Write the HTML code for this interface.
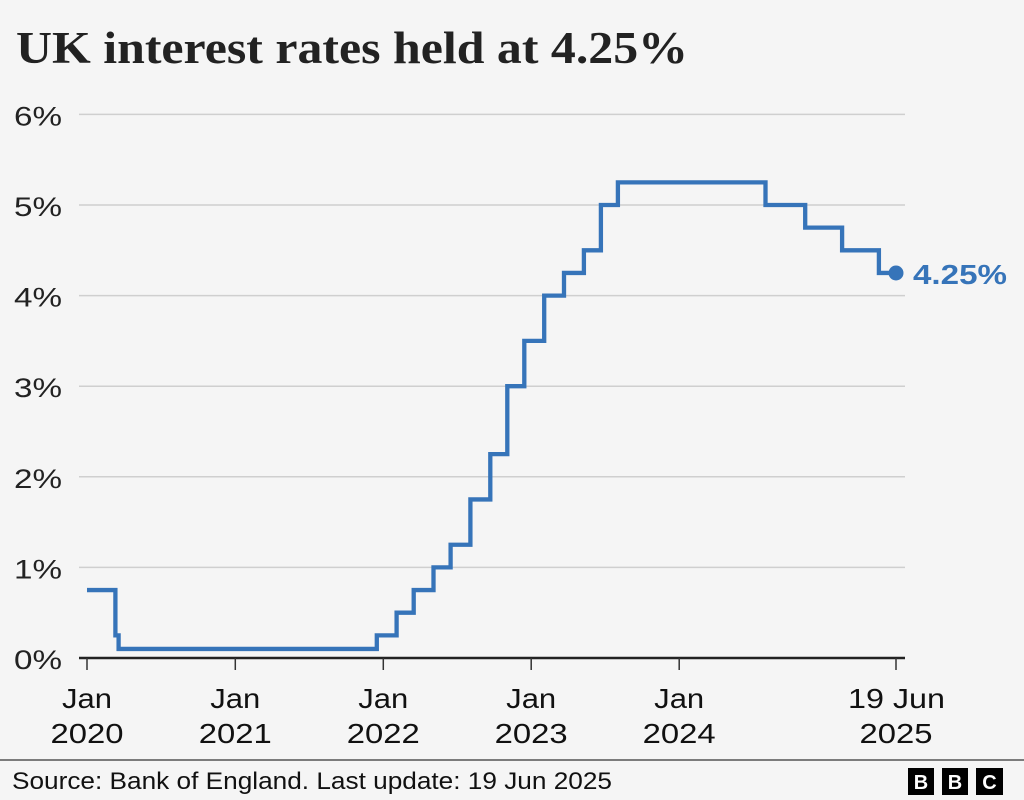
<!DOCTYPE html>
<html>
<head>
<meta charset="utf-8">
<style>
  html, body { margin: 0; padding: 0; background: #f5f5f5; }
  body { width: 1024px; height: 800px; overflow: hidden; }
  svg { display: block; }
</style>
</head>
<body>
<svg width="1024" height="800" viewBox="0 0 1024 800" xmlns="http://www.w3.org/2000/svg">
  <rect x="0" y="0" width="1024" height="800" fill="#f5f5f5"/>

  <!-- Title -->
  <text x="16" y="63" font-family="'Liberation Serif', serif" font-weight="bold" font-size="45" fill="#222" textLength="672" lengthAdjust="spacingAndGlyphs">UK interest rates held at 4.25%</text>

  <!-- Gridlines -->
  <g stroke="#cfcfcf" stroke-width="1.5">
    <line x1="79" y1="114.4" x2="905" y2="114.4"/>
    <line x1="79" y1="205" x2="905" y2="205"/>
    <line x1="79" y1="295.6" x2="905" y2="295.6"/>
    <line x1="79" y1="386.2" x2="905" y2="386.2"/>
    <line x1="79" y1="476.8" x2="905" y2="476.8"/>
    <line x1="79" y1="567.4" x2="905" y2="567.4"/>
  </g>

  <!-- Y labels -->
  <g font-family="'Liberation Sans', sans-serif" font-size="27" fill="#222">
    <text x="14" y="125.4" textLength="48" lengthAdjust="spacingAndGlyphs">6%</text>
    <text x="14" y="216" textLength="48" lengthAdjust="spacingAndGlyphs">5%</text>
    <text x="14" y="306.6" textLength="48" lengthAdjust="spacingAndGlyphs">4%</text>
    <text x="14" y="397.2" textLength="48" lengthAdjust="spacingAndGlyphs">3%</text>
    <text x="14" y="487.8" textLength="48" lengthAdjust="spacingAndGlyphs">2%</text>
    <text x="14" y="578.4" textLength="48" lengthAdjust="spacingAndGlyphs">1%</text>
    <text x="14" y="669" textLength="48" lengthAdjust="spacingAndGlyphs">0%</text>
  </g>

  <!-- Axis line and ticks -->
  <line x1="79" y1="658" x2="905" y2="658" stroke="#222" stroke-width="2.5"/>
  <g stroke="#333" stroke-width="1.5">
    <line x1="87" y1="658" x2="87" y2="670"/>
    <line x1="235.3" y1="658" x2="235.3" y2="670"/>
    <line x1="383.3" y1="658" x2="383.3" y2="670"/>
    <line x1="531.2" y1="658" x2="531.2" y2="670"/>
    <line x1="679.2" y1="658" x2="679.2" y2="670"/>
    <line x1="896" y1="658" x2="896" y2="670"/>
  </g>

  <!-- X labels -->
  <g font-family="'Liberation Sans', sans-serif" font-size="28" fill="#111" text-anchor="middle">
    <text x="87" y="708" textLength="50" lengthAdjust="spacingAndGlyphs">Jan</text>
    <text x="87" y="743" textLength="73" lengthAdjust="spacingAndGlyphs">2020</text>
    <text x="235.3" y="708" textLength="50" lengthAdjust="spacingAndGlyphs">Jan</text>
    <text x="235.3" y="743" textLength="73" lengthAdjust="spacingAndGlyphs">2021</text>
    <text x="383.3" y="708" textLength="50" lengthAdjust="spacingAndGlyphs">Jan</text>
    <text x="383.3" y="743" textLength="73" lengthAdjust="spacingAndGlyphs">2022</text>
    <text x="531.2" y="708" textLength="50" lengthAdjust="spacingAndGlyphs">Jan</text>
    <text x="531.2" y="743" textLength="73" lengthAdjust="spacingAndGlyphs">2023</text>
    <text x="679.2" y="708" textLength="50" lengthAdjust="spacingAndGlyphs">Jan</text>
    <text x="679.2" y="743" textLength="73" lengthAdjust="spacingAndGlyphs">2024</text>
    <text x="896.5" y="708" textLength="97" lengthAdjust="spacingAndGlyphs">19 Jun</text>
    <text x="896" y="743" textLength="73" lengthAdjust="spacingAndGlyphs">2025</text>
  </g>

  <!-- Series -->
  <path d="M87,590.05 H115.4 V635.35 H118.6 V648.94 H376.8 V635.35 H396.6 V612.7 H413.7 V590.05 H433.5 V567.4 H450.6 V544.75 H470.4 V499.45 H490.3 V454.15 H507.3 V386.2 H524.3 V340.9 H544.2 V295.6 H564.0 V272.95 H583.9 V250.3 H600.9 V205 H617.9 V182.35 H765.5 V205 H805.2 V227.65 H842.1 V250.3 H878.9 V272.95 H896"
        fill="none" stroke="#3674b9" stroke-width="4.3" stroke-linejoin="miter" stroke-linecap="butt"/>
  <circle cx="896" cy="273" r="7.5" fill="#3674b9"/>
  <text x="913" y="284" font-family="'Liberation Sans', sans-serif" font-weight="bold" font-size="28" fill="#3674b9" textLength="94" lengthAdjust="spacingAndGlyphs">4.25%</text>

  <!-- Footer -->
  <line x1="0" y1="760" x2="1024" y2="760" stroke="#555" stroke-width="1.5"/>
  <text x="12" y="789" font-family="'Liberation Sans', sans-serif" font-size="24" fill="#111" textLength="600" lengthAdjust="spacingAndGlyphs">Source: Bank of England. Last update: 19 Jun 2025</text>

  <!-- BBC logo -->
  <g>
    <rect x="908" y="768" width="26" height="27" fill="#000"/>
    <rect x="942" y="768" width="26" height="27" fill="#000"/>
    <rect x="976" y="768" width="27" height="27" fill="#000"/>
    <g font-family="'Liberation Sans', sans-serif" font-weight="bold" font-size="20" fill="#fff" text-anchor="middle">
      <text x="921" y="789">B</text>
      <text x="955" y="789">B</text>
      <text x="989.5" y="789">C</text>
    </g>
  </g>
</svg>
</body>
</html>
